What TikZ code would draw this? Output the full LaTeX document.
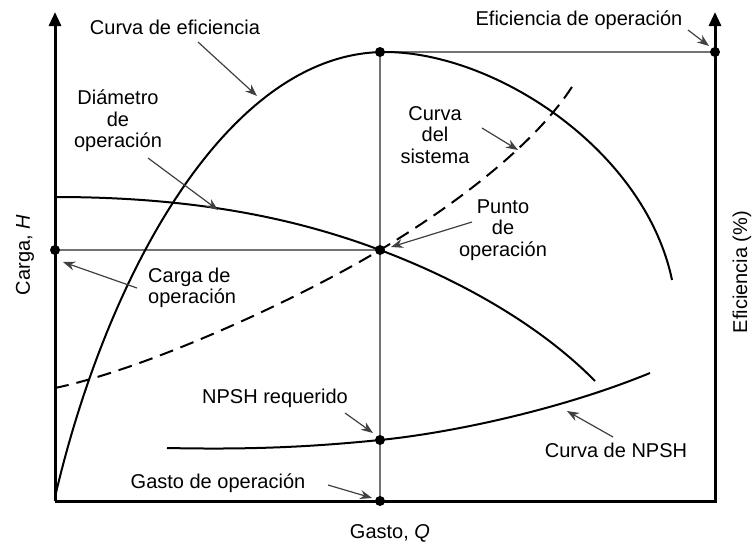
\documentclass[tikz,border=0pt]{standalone}
\usepackage{fontspec}
\setmainfont{Liberation Sans}
\usetikzlibrary{arrows.meta}
\begin{document}
\begin{tikzpicture}[x=1pt,y=-1pt,
    curve/.style={line width=2pt},
    oper/.style={draw=black!55,line width=1.5pt},
    callout/.style={draw=black!75,line width=1.2pt,-{Stealth[length=12pt,width=9pt]}},
    lbl/.style={font=\fontsize{20}{21.5}\selectfont,align=center,inner sep=0pt},
    dot/.style={circle,fill=black,inner sep=0pt,minimum size=10pt}]
    \useasboundingbox (0,0) rectangle (755,546);
    % Frame
    \def\xleft{55}
    \def\xright{715}
    \def\ybot{501}
    \def\ytop{12}
    \def\xop{380}
    \def\yop{250}
    \def\yeff{52}
    \def\ynpsh{440}

    % Operating lines
    \draw[oper] (\xop,\ybot) -- (\xop,\yeff) -- (\xright,\yeff);
    \draw[oper] (\xleft,\yop) -- (\xop,\yop);

    % Efficiency curve
    \draw[curve] (55,497) .. controls (108,270) and (230,52) .. (385,52)
        .. controls (495,52) and (645,150) .. (672,280);
    % Head curve (diameter)
    \draw[curve] (55,197) .. controls (200,197) and (300,220) .. (\xop,\yop)
        .. controls (460,280) and (540,325) .. (595,381);
    % System curve
    \draw[curve,dash pattern=on 14pt off 8pt] (55,388) .. controls (150,368) and (300,298) .. (\xop,\yop)
        .. controls (460,202) and (540,140) .. (575,82);
    % NPSH curve
    \draw[curve] (167,448) .. controls (260,450) and (320,446) .. (\xop,\ynpsh)
        .. controls (450,433) and (560,410) .. (650,373);

    % Axes
    \draw[line width=3pt,-{Triangle[length=14pt,width=12pt]}] (\xleft,\ybot) -- (\xleft,\ytop);
    \draw[line width=3pt,-{Triangle[length=14pt,width=12pt]}] (\xleft,\ybot) -- (\xright,\ybot) -- (\xright,\ytop);

    % Points
    \node[dot] (dEffTop) at (\xop,\yeff) {};
    \node[dot] (dEffAxis) at (\xright,\yeff) {};
    \node[dot] (dHead) at (\xleft,\yop) {};
    \node[dot] (dOper) at (\xop,\yop) {};
    \node[dot] (dNpsh) at (\xop,\ynpsh) {};
    \node[dot] (dFlow) at (\xop,\ybot) {};

    % Labels
    \node[lbl] (lblEffCurve) at (175,27) {Curva de eficiencia};
    \node[lbl] (lblDiam) at (118,121) {Diámetro\\de\\operación};
    \node[lbl,align=left,anchor=west] (lblHead) at (148,288) {Carga de\\operación};
    \node[lbl] (lblSys) at (435,135) {Curva\\del\\sistema};
    \node[lbl] (lblPoint) at (503,230) {Punto\\de\\operación};
    \node[lbl] (lblNpshReq) at (275,398) {NPSH requerido};
    \node[lbl] (lblFlowOp) at (218,483) {Gasto de operación};
    \node[lbl] (lblNpshCurve) at (616,450) {Curva de NPSH};
    \node[lbl] (lblEffOp) at (579,20) {Eficiencia de operación};
    \node[lbl] (lblQ) at (390,533) {Gasto, \textit{Q}};
    \node[lbl,rotate=90] (lblH) at (25,255) {Carga, \textit{H}};
    \node[lbl,rotate=90] (lblEff) at (742,272) {Eficiencia (\%)};

    % Callouts
    \coordinate (tEffCurve) at (198,42);   \coordinate (hEffCurve) at (257,96);
    \coordinate (tDiam) at (148,158);      \coordinate (hDiam) at (218,210);
    \coordinate (tHead) at (137,288);      \coordinate (hHead) at (63,262);
    \coordinate (tSys) at (482,128);       \coordinate (hSys) at (518,150);
    \coordinate (tPoint) at (472,222);     \coordinate (hPoint) at (391,247);
    \coordinate (tNpshReq) at (345,413);   \coordinate (hNpshReq) at (373,433);
    \coordinate (tFlowOp) at (328,485);    \coordinate (hFlowOp) at (372,498);
    \coordinate (tNpshCurve) at (613,437); \coordinate (hNpshCurve) at (567,411);
    \coordinate (tEffOp) at (688,30);      \coordinate (hEffOp) at (709,46);
    \foreach \c in {EffCurve,Diam,Head,Sys,Point,NpshReq,FlowOp,NpshCurve,EffOp}
        \draw[callout] (t\c) -- (h\c);
\end{tikzpicture}
\end{document}
